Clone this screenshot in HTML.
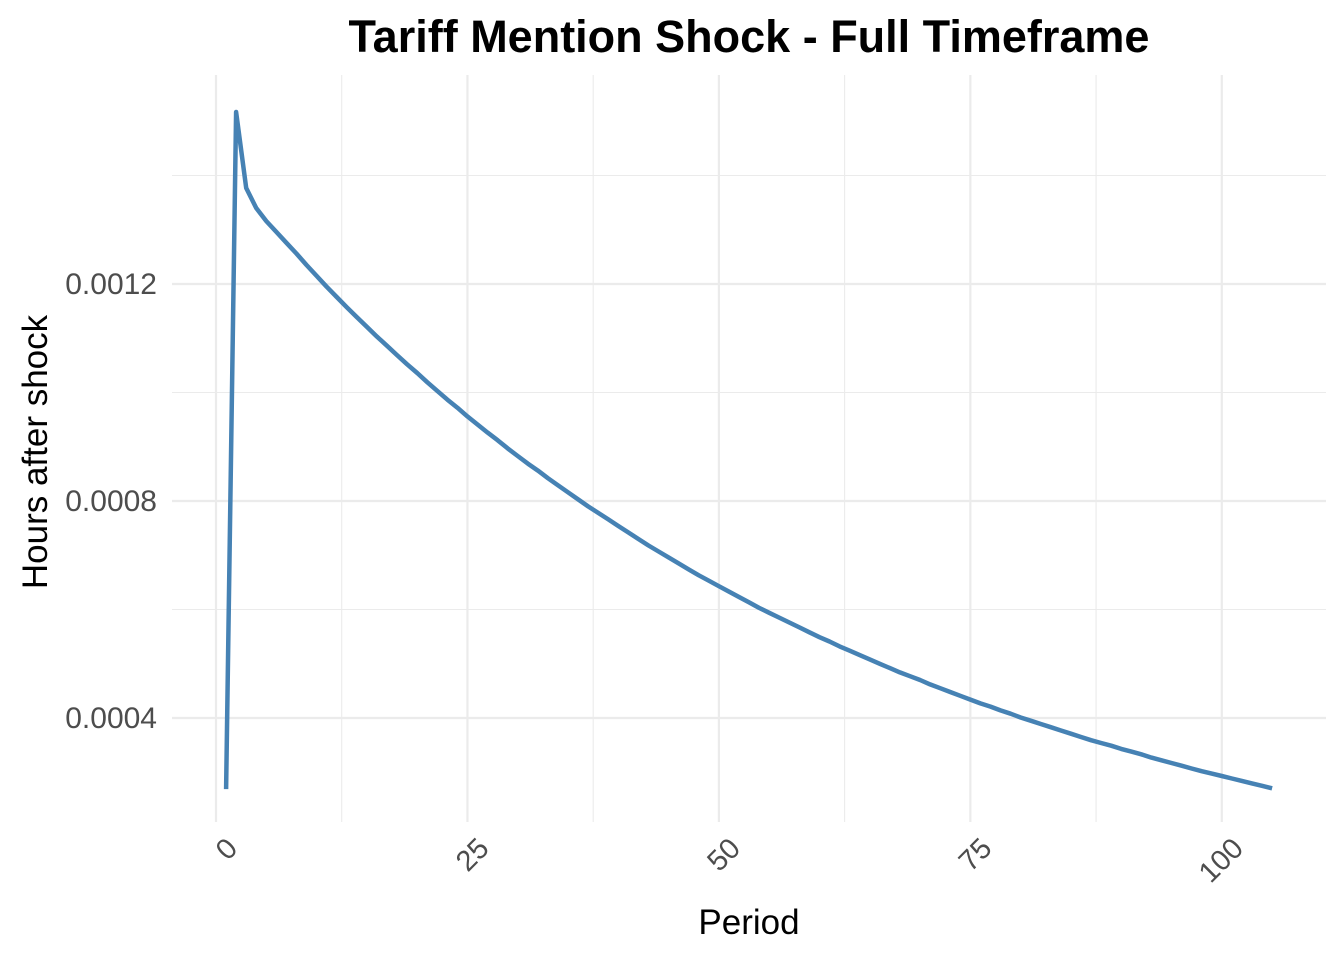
<!DOCTYPE html>
<html><head><meta charset="utf-8"><style>
html,body{margin:0;padding:0;background:#fff;}
svg{display:block;font-family:"Liberation Sans",Arial,sans-serif;}
</style></head><body>
<svg id="chart" width="1344" height="960">
<text x="749" y="52" text-anchor="middle" font-size="45" font-weight="bold" fill="#000">Tariff Mention Shock - Full Timeframe</text>
<g id="grid"></g>
<g id="ticks"></g>
<path id="line" fill="none" stroke="#4682b4" stroke-width="4.5" stroke-linejoin="round"></path>
<text x="749" y="934" text-anchor="middle" font-size="35" fill="#000">Period</text>
<text transform="translate(47,452) rotate(-90)" text-anchor="middle" font-size="35" fill="#000">Hours after shock</text>
</svg>
<script>
const periods = [];
for (let i = 1; i <= 105; i++) periods.push(i);
const valuesE6 = [269,1517,1377,1340,1316,1296,1276,1256,1235,1215,
1195,1176,1157,1139,1121,1103,1086,1069,1052,1036,
1019,1003,987,972,956,941,926,912,897,883,
869,856,842,829,816,803,790,778,766,754,
742,730,718,707,696,685,674,663,653,643,
633,623,613,603,594,585,576,567,558,549,
541,532,524,516,508,500,492,484,477,470,
462,455,448,441,434,427,421,414,408,401,
395,389,383,377,371,365,359,354,349,343,
338,333,327,322,317,312,307,302,297.5,293,
288.5,284,279.5,275,270.5];
const xTicks = [0,25,50,75,100];
const xMinor = [12.5,37.5,62.5,87.5];
const yTicks = [0.0004,0.0008,0.0012];
const yTickLabels = ["0.0004","0.0008","0.0012"];
const yMinor = [0.0006,0.0010,0.0014];

const NS = "http://www.w3.org/2000/svg";
const X = v => 216 + v * 10.058;
const Y = v => 718 - (v - 0.0004) * 542500;
const L = 172, R = 1326, T = 75, B = 822;
const grid = document.getElementById('grid');
const ticks = document.getElementById('ticks');
function line(x1,y1,x2,y2,w,name){
  const l = document.createElementNS(NS,'line');
  l.setAttribute('x1',x1);l.setAttribute('y1',y1);l.setAttribute('x2',x2);l.setAttribute('y2',y2);
  l.setAttribute('stroke','#ebebeb');l.setAttribute('stroke-width',w);
  
  
  grid.appendChild(l);
}
yMinor.forEach(v=>line(L,Y(v),R,Y(v),1.1,'y-minor-gridline'));
xMinor.forEach(v=>line(X(v),T,X(v),B,1.1,'x-minor-gridline'));
yTicks.forEach(v=>line(L,Y(v),R,Y(v),2.2,'y-major-gridline'));
xTicks.forEach(v=>line(X(v),T,X(v),B,2.2,'x-major-gridline'));
yTicks.forEach((v,i)=>{
  const t = document.createElementNS(NS,'text');
  t.setAttribute('x',157);t.setAttribute('y',Y(v)+10);
  t.setAttribute('text-anchor','end');t.setAttribute('font-size','30');t.setAttribute('fill','#4d4d4d');
  t.textContent = yTickLabels[i];
  
  
  ticks.appendChild(t);
});
xTicks.forEach(v=>{
  const t = document.createElementNS(NS,'text');
  const x = X(v)+16, y = 843;
  t.setAttribute('transform',`translate(${x},${y}) rotate(-45)`);
  t.setAttribute('text-anchor','end');t.setAttribute('font-size','29');t.setAttribute('fill','#4d4d4d');
  t.setAttribute('dy','10');
  t.textContent = String(v);
  
  
  ticks.appendChild(t);
});
let d = '';
periods.forEach((p,i)=>{ d += (i?'L':'M') + X(p).toFixed(1) + ',' + Y(valuesE6[i]*1e-6).toFixed(1); });
document.getElementById('line').setAttribute('d', d);
</script>
</body></html>
